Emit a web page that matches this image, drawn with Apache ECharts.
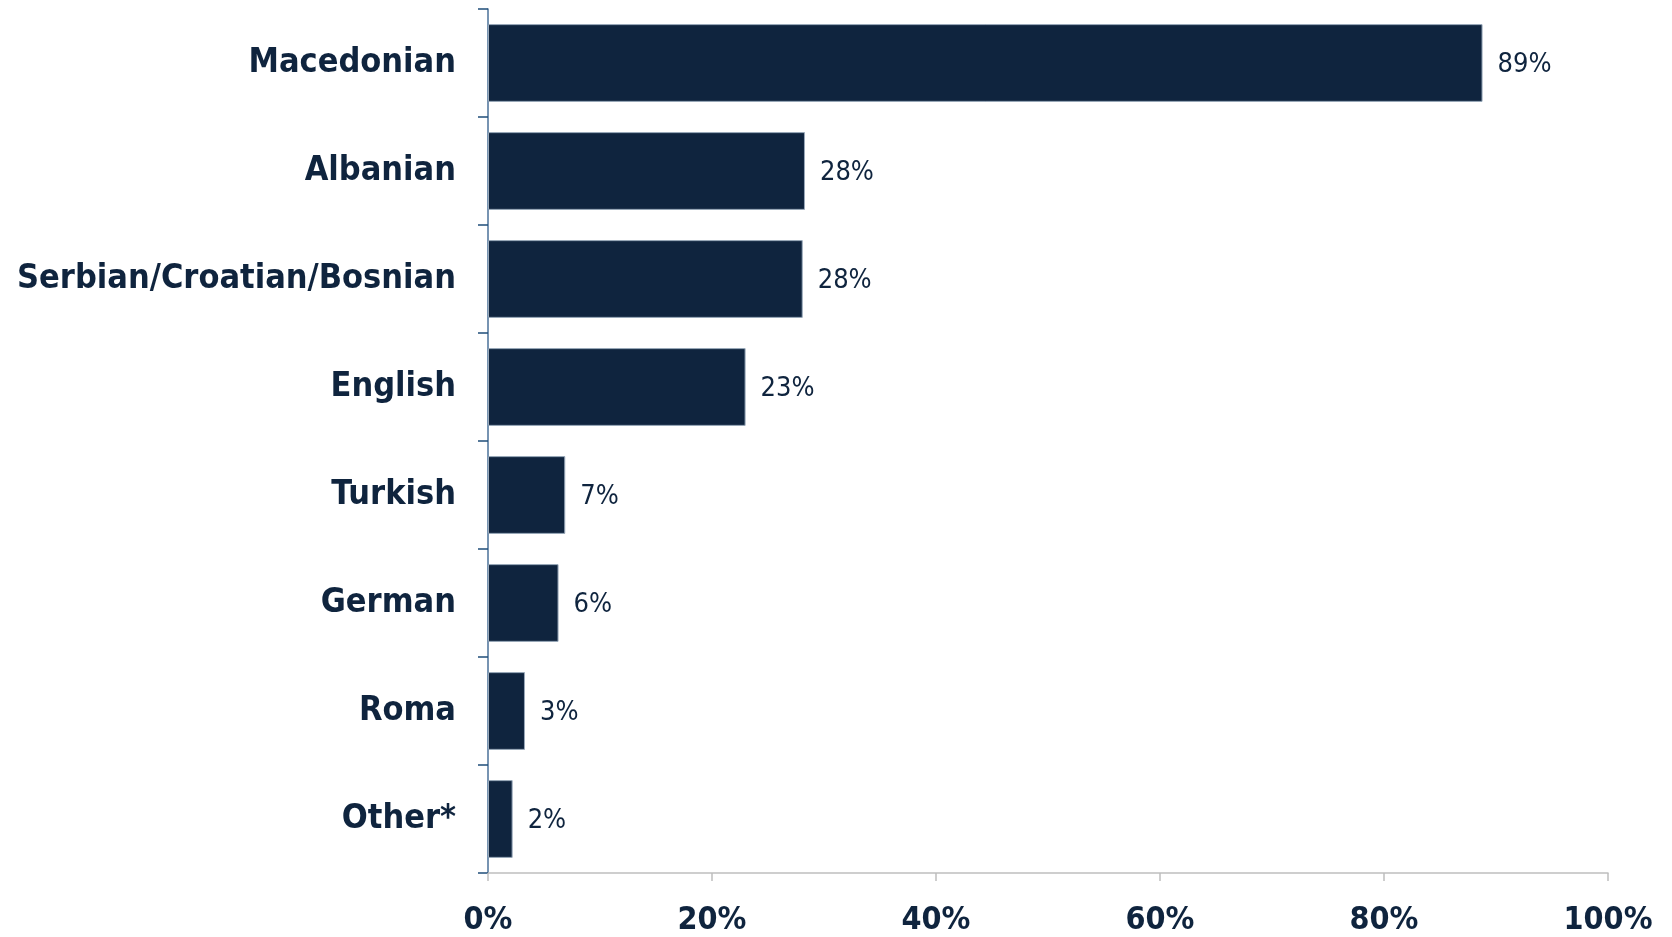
<!DOCTYPE html>
<html><head><meta charset="utf-8">
<script src="https://cdn.jsdelivr.net/npm/echarts@6/dist/echarts.min.js"></script>
<style>html,body{margin:0;padding:0;background:#fff}#c{width:1672px;height:937px}</style>
</head><body><div id="c"></div>
<script>
const categories = ["Macedonian","Albanian","Serbian/Croatian/Bosnian","English","Turkish","German","Roma","Other*"];
const values = [88.8, 28.3, 28.1, 23.0, 6.9, 6.3, 3.3, 2.2];
const valueLabels = ["89%","28%","28%","23%","7%","6%","3%","2%"];
const xTicks = [0,20,40,60,80,100];

const navy = '#0F243E';
const chart = echarts.init(document.getElementById('c'));
chart.setOption({
  animation:false,
  grid:{left:488,right:64,top:9,bottom:63,containLabel:false},
  xAxis:{type:'value',min:xTicks[0],max:xTicks[xTicks.length-1],interval:xTicks[1]-xTicks[0],
    axisLine:{show:true,lineStyle:{color:'#BFBFBF',width:1.5}},
    axisTick:{show:true,length:8,lineStyle:{color:'#BFBFBF',width:1.5}},
    splitLine:{show:false},
    axisLabel:{margin:32,formatter:v=>v+'%',color:navy,fontFamily:'DejaVu Sans Condensed, DejaVu Sans',fontWeight:'bold',fontSize:32}
  },
  yAxis:{type:'category',data:categories,inverse:true,
    axisLine:{show:true,lineStyle:{color:'#4A7098',width:1.5}},
    axisTick:{show:true,length:10,lineStyle:{color:'#1F4E79',width:1.5}},
    axisLabel:{margin:32,color:navy,fontFamily:'DejaVu Sans Condensed, DejaVu Sans',fontWeight:'bold',fontSize:34}
  },
  series:[{type:'bar',data:values,barCategoryGap:'28%',
    itemStyle:{color:navy,borderColor:'#9AAABB',borderWidth:1},
    label:{show:true,position:'right',distance:15,offset:[0,2],color:navy,fontFamily:'DejaVu Sans Condensed, DejaVu Sans',fontSize:27,
      formatter:p=>valueLabels[p.dataIndex]}
  }]
});
</script></body></html>
